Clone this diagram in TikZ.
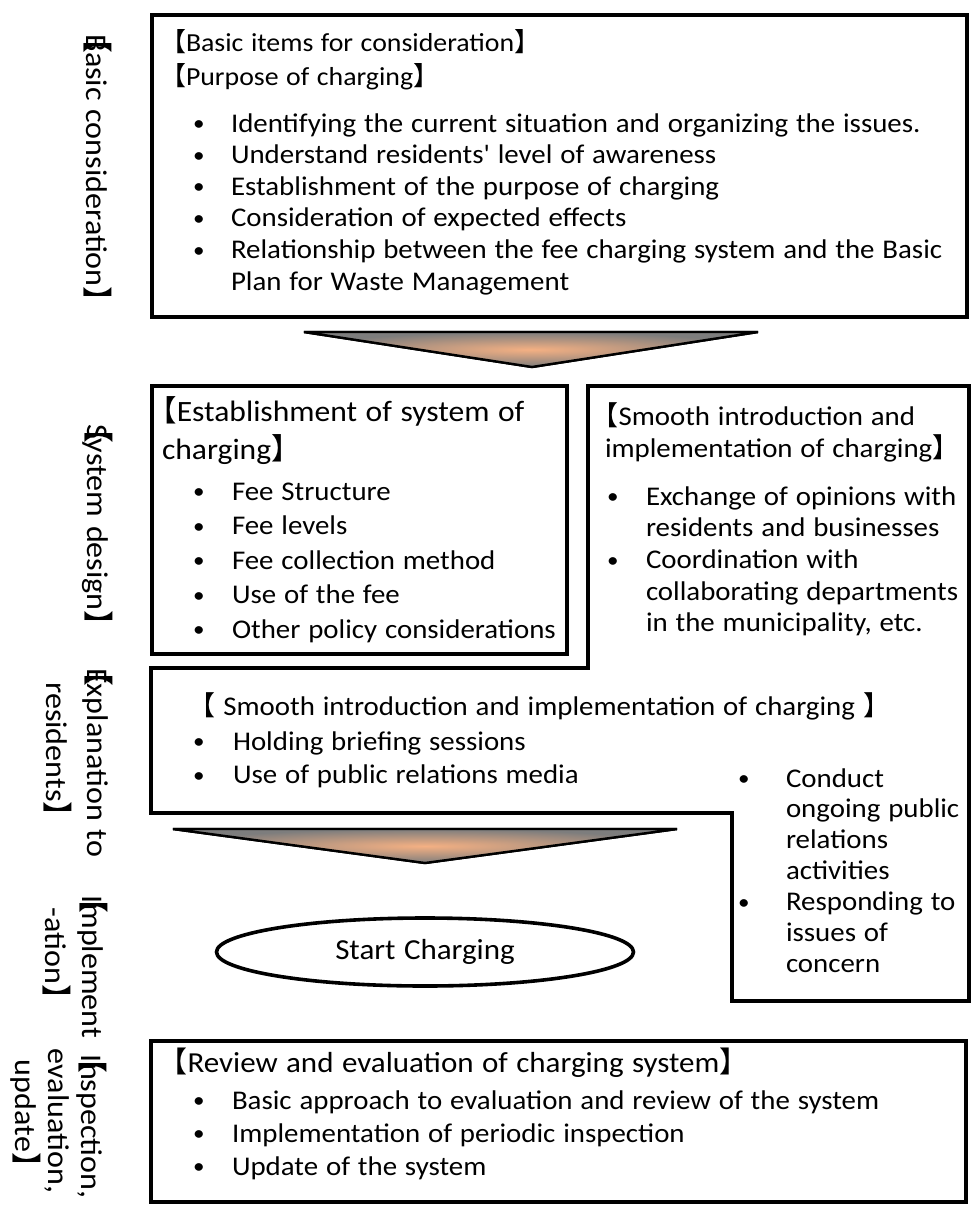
\documentclass[tikz,border=0pt]{standalone}
\usepackage{fontspec}
\setmainfont{Carlito}[FakeStretch=1.07,WordSpace=1.2,Ligatures=TeXOff]
\newfontfamily\cjkfont{Noto Sans CJK JP}
\usetikzlibrary{shapes.geometric}
% full-width lenticular brackets, opening one pulled left onto its ink
\newcommand{\lbr}{\hspace*{-0.5em}{\cjkfont 【}}
\newcommand{\rbr}{{\cjkfont 】}}
\newcommand{\vlbr}{{\cjkfont 【}\hspace*{-0.62em}}
\newcommand{\bul}{\raisebox{0.05em}{\scalebox{0.8}{\textbullet}}}
\definecolor{arrowmid}{RGB}{244,176,131}
\definecolor{arrowedge}{RGB}{125,125,125}

\begin{document}
\begin{tikzpicture}[x=1pt,y=-1pt,
  frame/.style={draw=black,line width=3.6pt,line join=miter},
  downarrow/.style={draw=black,line width=2.4pt,line join=miter,
    inner color=arrowmid,outer color=arrowedge},
  txt/.style={anchor=base west,inner sep=0pt,outer sep=0pt},
  vlabel/.style={rotate=-90,inner sep=0pt,align=center},
]
\path[use as bounding box] (0,0) rectangle (971,1207);

% ---- frames ----
\draw[frame] (152,15) rectangle (967,317);
\draw[frame] (152,386) rectangle (567,654);
\draw[frame] (588,386) -- (969,386) -- (969,1001) -- (732,1001)
  -- (732,813) -- (151,813) -- (151,668) -- (588,668) -- cycle;
\draw[frame] (151,1041) rectangle (966,1202);

% ---- flow arrows ----
\coordinate (a1l) at (304,332); \coordinate (a1r) at (758,332);
\coordinate (a1t) at (532,367);
\shade[downarrow] (a1l) -- (a1r) -- (a1t) -- cycle;
\draw[downarrow,fill=none] (a1l) -- (a1r) -- (a1t) -- cycle;
\coordinate (a2l) at (173,829); \coordinate (a2r) at (677,829);
\coordinate (a2t) at (425,863);
\shade[downarrow] (a2l) -- (a2r) -- (a2t) -- cycle;
\draw[downarrow,fill=none] (a2l) -- (a2r) -- (a2t) -- cycle;

\node[ellipse,draw=black,line width=3.6pt,minimum width=417pt,
  minimum height=68pt,inner sep=0pt,font=\fontsize{29}{32}\selectfont]
  (start) at (425,952) {Start Charging};

% ---- side labels ----
\node[vlabel,font=\fontsize{30}{36}\selectfont] (lab1) at (98,170)
  {\vlbr Basic consideration\rbr};
\node[vlabel,font=\fontsize{30}{36}\selectfont] (lab2) at (98,527)
  {\vlbr System design\rbr};
\node[vlabel,font=\fontsize{30}{41}\selectfont] (lab3) at (78,757)
  {\vlbr Explanation to\\residents\rbr};
\node[vlabel,font=\fontsize{30}{37}\selectfont] (lab4) at (75,961)
  {\vlbr Implement\\-ation\rbr};
\node[vlabel,font=\fontsize{30}{33}\selectfont] (lab5) at (59,1121)
  {\vlbr Inspection,\\evaluation,\\update\rbr};

% ---- basic consideration ----
\node[txt,font=\fontsize{26}{33.5}\selectfont] (t1) at (173,52)
  {\begin{tabular}[t]{@{}l@{}}
  \lbr Basic items for consideration\rbr\\
  \lbr Purpose of charging\rbr
  \end{tabular}};
\node[txt,font=\fontsize{27}{31.6}\selectfont] (b1) at (193,132)
  {\begin{tabular}[t]{@{}p{38pt}@{}l@{}}
  \bul & Identifying the current situation and organizing the issues.\\
  \bul & Understand residents' level of awareness\\
  \bul & Establishment of the purpose of charging\\
  \bul & Consideration of expected effects\\
  \bul & Relationship between the fee charging system and the Basic\\
       & Plan for Waste Management
  \end{tabular}};

% ---- system of charging ----
\node[txt,font=\fontsize{29.5}{38}\selectfont] (t2) at (162,421)
  {\begin{tabular}[t]{@{}l@{}}
  \lbr Establishment of system of\\
  charging\rbr
  \end{tabular}};
\node[txt,font=\fontsize{27}{34.5}\selectfont] (b2) at (193,500)
  {\begin{tabular}[t]{@{}p{39pt}@{}l@{}}
  \bul & Fee Structure\\
  \bul & Fee levels\\
  \bul & Fee collection method\\
  \bul & Use of the fee\\
  \bul & Other policy considerations
  \end{tabular}};

% ---- smooth introduction (upper right) ----
\node[txt,font=\fontsize{27}{32}\selectfont] (t3) at (605,425)
  {\begin{tabular}[t]{@{}l@{}}
  \lbr Smooth introduction and\\
  implementation of charging\rbr
  \end{tabular}};
\node[txt,font=\fontsize{27}{31.7}\selectfont] (b3) at (607,505)
  {\begin{tabular}[t]{@{}p{39pt}@{}l@{}}
  \bul & Exchange of opinions with\\
       & residents and businesses\\
  \bul & Coordination with\\
       & collaborating departments\\
       & in the municipality, etc.
  \end{tabular}};

% ---- explanation to residents ----
\node[txt,font=\fontsize{27}{34}\selectfont] (t4) at (202,715)
  {\lbr\ Smooth introduction and implementation of charging \rbr};
\node[txt,font=\fontsize{27}{33.5}\selectfont] (b4) at (193,750)
  {\begin{tabular}[t]{@{}p{40pt}@{}l@{}}
  \bul & Holding briefing sessions\\
  \bul & Use of public relations media
  \end{tabular}};
\node[txt,font=\fontsize{27}{30.9}\selectfont] (b5) at (738,787)
  {\begin{tabular}[t]{@{}p{48pt}@{}l@{}}
  \bul & Conduct\\
       & ongoing public\\
       & relations\\
       & activities\\
  \bul & Responding to\\
       & issues of\\
       & concern
  \end{tabular}};

% ---- review ----
\node[txt,font=\fontsize{29}{36}\selectfont] (t6) at (173,1072)
  {\lbr Review and evaluation of charging system\rbr};
\node[txt,font=\fontsize{27}{33}\selectfont] (b6) at (193,1109)
  {\begin{tabular}[t]{@{}p{39pt}@{}l@{}}
  \bul & Basic approach to evaluation and review of the system\\
  \bul & Implementation of periodic inspection\\
  \bul & Update of the system
  \end{tabular}};
\end{tikzpicture}
\end{document}
